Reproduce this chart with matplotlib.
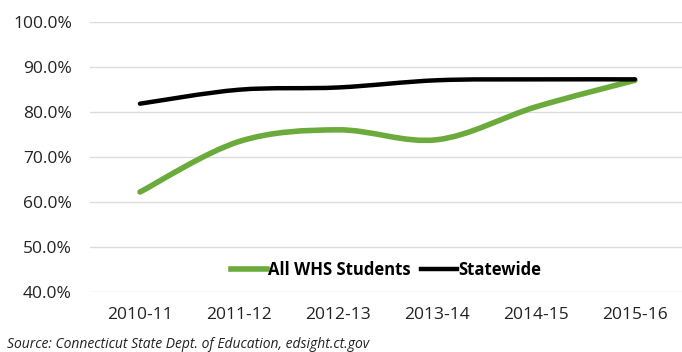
import matplotlib.pyplot as plt
from matplotlib.path import Path
from matplotlib.patches import PathPatch
from matplotlib.lines import Line2D
from matplotlib.ticker import PercentFormatter

years = ["2010-11", "2011-12", "2012-13", "2013-14", "2014-15", "2015-16"]
whs_rate = [0.622, 0.734, 0.760, 0.738, 0.811, 0.870]
state_rate = [0.818, 0.849, 0.854, 0.870, 0.872, 0.872]
y_ticks = [0.4, 0.5, 0.6, 0.7, 0.8, 0.9, 1.0]

GREEN = "#6aab3c"
plt.rcParams["font.family"] = ["Open Sans", "DejaVu Sans"]


def smooth_path(xs, ys):
    # Catmull-Rom style bezier through every point, like a spreadsheet "smoothed line"
    verts = [(xs[0], ys[0])]
    codes = [Path.MOVETO]
    n = len(xs)
    for i in range(n - 1):
        x0, y0 = (xs[i - 1], ys[i - 1]) if i > 0 else (xs[i], ys[i])
        x1, y1 = xs[i], ys[i]
        x2, y2 = xs[i + 1], ys[i + 1]
        x3, y3 = (xs[i + 2], ys[i + 2]) if i + 2 < n else (x2, y2)
        c1 = (x1 + (x2 - x0) / 6, y1 + (y2 - y0) / 6)
        c2 = (x2 - (x3 - x1) / 6, y2 - (y3 - y1) / 6)
        verts += [c1, c2, (x2, y2)]
        codes += [Path.CURVE4] * 3
    return Path(verts, codes)


fig = plt.figure(figsize=(6.82, 3.52), dpi=100)
ax = fig.add_axes([90 / 682, 60 / 352, 592 / 682, 270.3 / 352])

xs = list(range(len(years)))
ax.add_patch(PathPatch(smooth_path(xs, whs_rate), fill=False,
                       edgecolor=GREEN, lw=4.0, capstyle="round", zorder=3))
ax.add_patch(PathPatch(smooth_path(xs, state_rate), fill=False,
                       edgecolor="black", lw=3.2, capstyle="round", zorder=4))

ax.set_xlim(-0.505, 5.475)
ax.set_ylim(0.4, 1.0)
ax.set_xticks(xs)
ax.set_xticklabels(years)
ax.set_yticks(y_ticks)
ax.yaxis.set_major_formatter(PercentFormatter(1.0, decimals=1))
ax.tick_params(length=0, labelsize=12.5, colors="#222222")
ax.tick_params(axis="x", pad=11)
ax.tick_params(axis="y", pad=13)
ax.grid(axis="y", color="#dcdcdc", lw=1)
ax.set_axisbelow(True)
for s in ax.spines.values():
    s.set_visible(False)

handles = [Line2D([], [], color=GREEN, lw=4.0), Line2D([], [], color="black", lw=3.2)]
ax.legend(handles, ["All WHS Students", "Statewide"], loc="center",
          bbox_to_anchor=(386 / 682, 82 / 352), bbox_transform=fig.transFigure,
          ncol=2, frameon=False, handlelength=2.2, handletextpad=0.05,
          columnspacing=0.6, prop={"weight": "bold", "size": 12})

fig.text(7 / 682, 4 / 352, "Source: Connecticut State Dept. of Education, edsight.ct.gov",
         style="italic", fontsize=10, color="#222222")

fig.savefig("out.png", dpi=100)
